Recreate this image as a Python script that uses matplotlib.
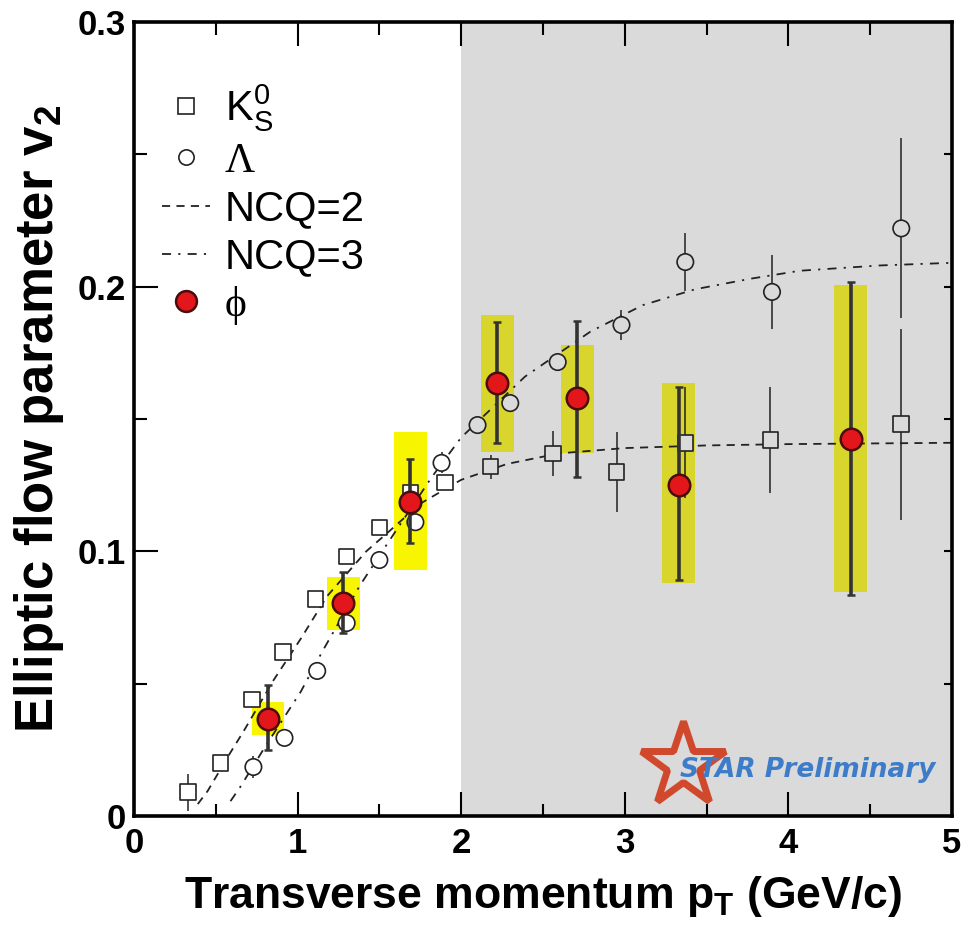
import numpy as np
import matplotlib
matplotlib.use('Agg')
import matplotlib.pyplot as plt
from matplotlib.lines import Line2D

plt.rcParams['font.family'] = ['Liberation Sans', 'DejaVu Sans']
plt.rcParams['mathtext.default'] = 'regular'

# K0s (open squares)
k0s_pt = [0.33, 0.53, 0.72, 0.91, 1.11, 1.30, 1.50, 1.69, 1.90, 2.18, 2.56, 2.95, 3.37, 3.89, 4.69]
k0s_v2 = [0.009, 0.020, 0.044, 0.062, 0.082, 0.098, 0.109, 0.122, 0.126, 0.132, 0.137, 0.130, 0.141, 0.142, 0.148]
k0s_err = [0.007, 0.002, 0.002, 0.002, 0.002, 0.002, 0.002, 0.003, 0.003, 0.0045, 0.0085, 0.015, 0.021, 0.020, 0.036]

# Lambda (open circles)
lam_pt = [0.73, 0.92, 1.12, 1.30, 1.50, 1.72, 1.88, 2.10, 2.30, 2.59, 2.98, 3.37, 3.90, 4.69]
lam_v2 = [0.0185, 0.0295, 0.0548, 0.0729, 0.0967, 0.111, 0.1334, 0.1477, 0.156, 0.1715, 0.1855, 0.2093, 0.198, 0.222]
lam_err = [0.004, 0.003, 0.003, 0.003, 0.003, 0.003, 0.004, 0.003, 0.003, 0.003, 0.0055, 0.011, 0.014, 0.034]

# phi (red) with stat errors and systematic band
phi_pt = [0.82, 1.28, 1.69, 2.22, 2.71, 3.33, 4.38]
phi_v2 = [0.0366, 0.0805, 0.1186, 0.1636, 0.158, 0.125, 0.1424]
phi_hi = [0.0495, 0.0922, 0.135, 0.1866, 0.187, 0.162, 0.2017]
phi_lo = [0.0249, 0.0691, 0.1031, 0.1409, 0.128, 0.0892, 0.0835]
phi_sys_lo = [0.0306, 0.0703, 0.0929, 0.1375, 0.1371, 0.088, 0.0846]
phi_sys_hi = [0.0431, 0.0903, 0.1451, 0.1893, 0.178, 0.1636, 0.2006]

# NCQ scaled fit curves
ncq2_pt = [0.39, 0.45, 0.59, 0.67, 0.85, 1.02, 1.18, 1.42, 1.55, 1.75, 2.0, 2.28, 2.6, 3.0, 3.5, 4.0, 5.0]
ncq2_v2 = [0.0045, 0.0094, 0.024, 0.032, 0.051, 0.067, 0.083, 0.100, 0.107, 0.118, 0.127, 0.133, 0.137, 0.139, 0.140, 0.1405, 0.141]
ncq3_pt = [0.59, 0.65, 0.80, 1.02, 1.15, 1.38, 1.55, 1.82, 2.0, 2.39, 2.79, 3.11, 3.43, 3.77, 4.07, 4.56, 5.0]
ncq3_v2 = [0.0056, 0.011, 0.026, 0.047, 0.062, 0.087, 0.103, 0.128, 0.143, 0.166, 0.183, 0.193, 0.199, 0.203, 0.206, 0.208, 0.209]

BG = '#dadada'
INK = '#222222'

fig = plt.figure(figsize=(9.61, 9.30), dpi=100)
ax = fig.add_axes([0.1394, 0.1226, 0.8512, 0.8538])

ax.axvspan(2, 5, color=BG, zorder=0, lw=0)

# systematic boxes
sys_h = np.array(phi_sys_hi) - np.array(phi_sys_lo)
sys_col = ['#f8f500' if p < 2 else '#d8d62c' for p in phi_pt]
ax.bar(phi_pt, sys_h, bottom=phi_sys_lo, width=0.2, color=sys_col, lw=0, zorder=1)

ax.plot(ncq2_pt, ncq2_v2, color=INK, lw=1.3, dashes=[4.5, 3.5], zorder=2)
ax.plot(ncq3_pt, ncq3_v2, color=INK, lw=1.3, dashes=[5, 4, 1.2, 4], zorder=2)

# error bars first, then open markers filled with the local background
ax.errorbar(k0s_pt, k0s_v2, yerr=k0s_err, fmt='none', ecolor=INK, elinewidth=1.1, zorder=3)
ax.errorbar(lam_pt, lam_v2, yerr=lam_err, fmt='none', ecolor=INK, elinewidth=1.1, zorder=3)
k0s_fc = ['white' if p < 2 else BG for p in k0s_pt]
lam_fc = ['white' if p < 2 else BG for p in lam_pt]
ax.scatter(k0s_pt, k0s_v2, marker='s', s=125, facecolors=k0s_fc, edgecolors=INK,
           linewidths=1.2, zorder=3.5)
ax.scatter(lam_pt, lam_v2, marker='o', s=140, facecolors=lam_fc, edgecolors=INK,
           linewidths=1.2, zorder=3.5)

phi_v2a = np.array(phi_v2)
yerr = [phi_v2a - np.array(phi_lo), np.array(phi_hi) - phi_v2a]
ax.errorbar(phi_pt, phi_v2, yerr=yerr, fmt='o', ms=15.5, mfc='#e3161c', mec='#4a0c0c',
            mew=1.8, ecolor='#333333', elinewidth=2.6, capsize=3, capthick=2.6, zorder=4)

ax.set_xlim(0, 5)
ax.set_ylim(0, 0.3)
ax.set_xticks([0, 1, 2, 3, 4, 5])
ax.set_xticks(np.arange(0.5, 5, 1), minor=True)
ax.set_yticks([0, 0.1, 0.2, 0.3])
ax.set_yticklabels(['0', '0.1', '0.2', '0.3'])
ax.set_yticks([0.05, 0.15, 0.25], minor=True)
ax.tick_params(which='both', direction='in', top=True, right=False, width=1.5,
               labelsize=25, colors='black')
ax.tick_params(which='major', length=17)
ax.tick_params(which='minor', length=9)
for lab in ax.get_xticklabels() + ax.get_yticklabels():
    lab.set_fontweight('bold')
ax.tick_params(axis='x', pad=8)
ax.tick_params(axis='y', pad=6)
for s in ax.spines.values():
    s.set_linewidth(2.6)

ax2 = ax.twinx()
ax2.set_ylim(0, 0.3)
ax2.set_yticks(np.arange(0.05, 0.3, 0.05))
ax2.tick_params(direction='in', length=6, width=1.5, labelright=False)
for s in ax2.spines.values():
    s.set_visible(False)

ax.set_xlabel(r'Transverse momentum p$_\mathregular{T}$ (GeV/c)', fontsize=32,
              fontweight='bold', labelpad=10)
ax.set_ylabel(r'Elliptic flow parameter v$_\mathregular{2}$', fontsize=38,
              fontweight='bold', labelpad=8)

handles = [
    Line2D([], [], ls='none', marker='s', ms=11, mfc='none', mec=INK, mew=1.2),
    Line2D([], [], ls='none', marker='o', ms=11, mfc='none', mec=INK, mew=1.2),
    Line2D([], [], color=INK, lw=1.3, dashes=[4.5, 3.5]),
    Line2D([], [], color=INK, lw=1.3, dashes=[5, 4, 1.2, 4]),
    Line2D([], [], ls='none', marker='o', ms=15, mfc='#e3161c', mec='#4a0c0c', mew=1.8),
]
labels = [r'K$_\mathregular{S}^\mathregular{0}$', 'Λ', 'NCQ=2', 'NCQ=3', 'ϕ']
leg = ax.legend(handles, labels, loc='upper left', bbox_to_anchor=(0.014, 0.945),
                frameon=False, fontsize=30, handlelength=1.15, handletextpad=0.35,
                labelspacing=0.2, borderaxespad=0)
for i in (1, 4):
    leg.get_texts()[i].set_family(['Liberation Serif', 'DejaVu Serif'])

# STAR Preliminary watermark
ax.plot([0.671], [0.064], marker='*', ms=64, mfc='none', mec='#d0492c', mew=5,
        transform=ax.transAxes, zorder=5, clip_on=False)
ax.text(0.667, 0.058, 'STAR Preliminary', transform=ax.transAxes, fontsize=19,
        fontweight='bold', fontstyle='italic', color='#3d7cc9',
        family='DejaVu Sans', va='center', ha='left', zorder=6)

fig.savefig('out.png', dpi=100)
